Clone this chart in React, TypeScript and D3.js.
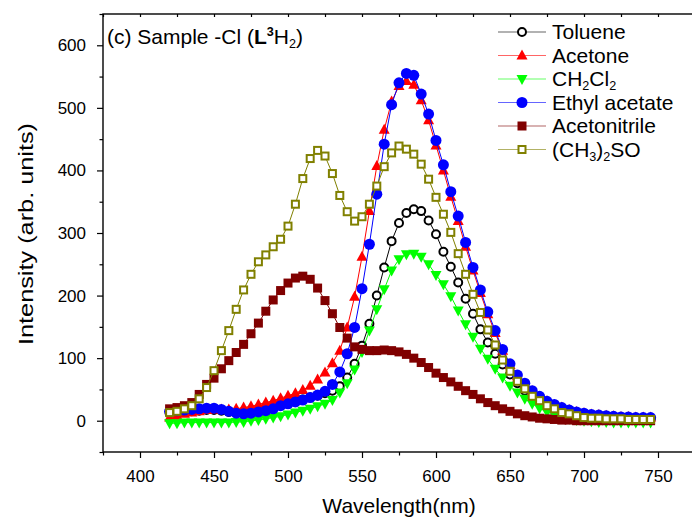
import React, { useRef, useEffect } from 'react';
import * as d3 from 'd3';

// wavelength grid (nm)
const wavelengths = [
  420, 425, 430, 435, 440, 445, 450, 455, 460, 465,
  470, 475, 480, 485, 490, 495, 500, 505, 510, 515,
  520, 525, 530, 535, 540, 545, 550, 555, 560, 565,
  570, 575, 580, 585, 590, 595, 600, 605, 610, 615,
  620, 625, 630, 635, 640, 645, 650, 655, 660, 665,
  670, 675, 680, 685, 690, 695, 700, 705, 710, 715,
  720, 725, 730, 735, 740, 745,
];

const toluene = [
  12, 13, 14, 15, 16, 17, 17, 16, 14, 13,
  13, 14, 16, 19, 22, 25, 28, 31, 34, 37,
  40, 44, 48, 55, 69, 91, 120, 155, 200, 245,
  287, 316, 332, 338, 335, 320, 298, 270, 246, 221,
  195, 171, 146, 125, 107, 90, 74, 60, 48, 38,
  30, 24, 19, 15, 12, 10, 8, 7, 6, 5,
  4, 4, 3, 3, 3, 3,
];

const acetone = [
  5, 8, 11, 13, 15, 17, 18, 18, 18, 19,
  21, 23, 26, 29, 32, 36, 40, 44, 49, 56,
  66, 77, 92, 112, 149, 198, 262, 335, 407, 465,
  510, 535, 543, 537, 512, 480, 440, 400, 358, 319,
  278, 240, 204, 170, 140, 112, 89, 71, 58, 47,
  38, 31, 25, 21, 17, 14, 12, 10, 9, 8,
  7, 6, 6, 5, 5, 5,
];

const ch2cl2 = [
  -4, -4, -3, -3, -3, -3, -3, -3, -3, -2,
  -2, 0, 1, 3, 5, 7, 10, 13, 16, 19,
  23, 27, 33, 45, 60, 82, 110, 144, 178, 210,
  240, 258, 266, 267, 262, 250, 233, 218, 199, 176,
  154, 134, 115, 99, 83, 69, 56, 45, 35, 27,
  20, 14, 10, 6, 3, 1, 0, -1, -2, -2,
  -3, -3, -3, -3, -3, -3,
];

const ethylAcetate = [
  15, 16, 17, 18, 19, 20, 20, 18, 15, 12,
  11, 12, 14, 16, 19, 24, 27, 30, 33, 37,
  41, 47, 58, 78, 107, 149, 211, 282, 362, 442,
  505, 540, 555, 552, 522, 490, 448, 409, 366, 327,
  285, 245, 209, 174, 144, 114, 91, 73, 60, 48,
  39, 31, 26, 21, 17, 14, 12, 10, 9, 8,
  7, 6, 6, 5, 5, 5,
];

const acetonitrile = [
  19, 21, 24, 29, 42, 58, 68, 83, 96, 109,
  122, 139, 156, 175, 193, 208, 220, 228, 231, 226,
  212, 192, 171, 149, 132, 118, 114, 112, 112, 113,
  112, 110, 106, 100, 93, 85, 76, 69, 62, 55,
  48, 42, 35, 29, 24, 19, 15, 11, 8, 6,
  4, 3, 2, 1, 1, 0, 0, 0, 0, 0,
  0, 0, 0, 0, 0, 0,
];

const dmso = [
  13, 15, 19, 24, 35, 53, 80, 112, 144, 178,
  209, 234, 254, 265, 278, 290, 311, 346, 387, 419,
  432, 423, 395, 360, 334, 319, 326, 346, 375, 406,
  428, 439, 434, 426, 410, 386, 357, 330, 301, 267,
  234, 202, 173, 145, 121, 97, 79, 63, 51, 39,
  32, 24, 19, 13, 11, 8, 5, 4, 4, 3,
  3, 3, 2, 2, 2, 2,
];

const xMajorTicks = [400, 450, 500, 550, 600, 650, 700, 750];
const yMajorTicks = [0, 100, 200, 300, 400, 500, 600];

type Part = { t: string; sub?: boolean; sup?: boolean; bold?: boolean };

const series = [
  { label: [{ t: 'Toluene' }], values: toluene, color: '#000000', marker: 'circleOpen' },
  { label: [{ t: 'Acetone' }], values: acetone, color: '#ff0000', marker: 'triUp' },
  { label: [{ t: 'CH' }, { t: '2', sub: true }, { t: 'Cl' }, { t: '2', sub: true }], values: ch2cl2, color: '#00ff00', marker: 'triDown' },
  { label: [{ t: 'Ethyl acetate' }], values: ethylAcetate, color: '#0000ff', marker: 'circle' },
  { label: [{ t: 'Acetonitrile' }], values: acetonitrile, color: '#800000', marker: 'square' },
  { label: [{ t: '(CH' }, { t: '3', sub: true }, { t: ')' }, { t: '2', sub: true }, { t: 'SO' }], values: dmso, color: '#808000', marker: 'squareOpen' },
];

const FONT = '"Liberation Sans", Arial, sans-serif';

const drawMarker = (g, kind, color, cx, cy) => {
  if (kind === 'circleOpen') {
    g.append('circle').attr('cx', cx).attr('cy', cy).attr('r', 4)
      .attr('fill', '#fff').attr('stroke', color).attr('stroke-width', 2);
  } else if (kind === 'circle') {
    g.append('circle').attr('cx', cx).attr('cy', cy).attr('r', 5.5).attr('fill', color);
  } else if (kind === 'triUp') {
    g.append('path')
      .attr('d', `M${cx},${cy - 6}L${cx - 5.5},${cy + 4}L${cx + 5.5},${cy + 4}Z`)
      .attr('fill', color);
  } else if (kind === 'triDown') {
    g.append('path')
      .attr('d', `M${cx},${cy + 6}L${cx - 5.5},${cy - 4}L${cx + 5.5},${cy - 4}Z`)
      .attr('fill', color);
  } else if (kind === 'square') {
    g.append('rect').attr('x', cx - 4.5).attr('y', cy - 4.5).attr('width', 9).attr('height', 9)
      .attr('fill', color);
  } else if (kind === 'squareOpen') {
    g.append('rect').attr('x', cx - 3.5).attr('y', cy - 3.5).attr('width', 7).attr('height', 7)
      .attr('fill', '#fff').attr('stroke', color).attr('stroke-width', 2);
  }
};

// text with sub/superscripts
const richText = (text, parts: Part[], size) => {
  let shift = 0;
  parts.forEach(p => {
    const target = p.sub ? 4 : p.sup ? -8 : 0;
    const ts = text.append('tspan').text(p.t).attr('dy', target - shift);
    if (p.sub || p.sup) ts.attr('font-size', size * 0.6);
    if (p.bold) ts.attr('font-weight', 'bold');
    shift = target;
  });
};

const App = () => {
  const svgRef = useRef<SVGSVGElement>(null);

  useEffect(() => {
    const svg = d3.select(svgRef.current);
    svg.selectAll('*').remove();

    const left = 103, right = 695, top = 14, bottom = 452;

    const x = d3.scaleLinear().domain([375, 775]).range([left, right]);
    const y = d3.scaleLinear().domain([-50, 650]).range([bottom, top]);

    // series lines + markers
    series.forEach(s => {
      const g = svg.append('g');
      const line = d3.line<number>()
        .x((d, i) => x(wavelengths[i]))
        .y(d => y(d));
      g.append('path')
        .datum(s.values)
        .attr('d', line)
        .attr('fill', 'none')
        .attr('stroke', s.color)
        .attr('stroke-width', 1);
      s.values.forEach((v, i) => drawMarker(g, s.marker, s.color, x(wavelengths[i]), y(v)));
    });

    // minor ticks
    const minorX = d3.range(375, 776, 25).filter(v => !xMajorTicks.includes(v));
    const minorY = d3.range(-50, 651, 50).filter(v => !yMajorTicks.includes(v));

    svg.append('g')
      .attr('transform', `translate(0,${bottom})`)
      .call(d3.axisBottom(x).tickValues(minorX).tickSize(3.5).tickFormat(() => ''))
      .call(g => g.select('.domain').remove());
    svg.append('g')
      .attr('transform', `translate(${left},0)`)
      .call(d3.axisLeft(y).tickValues(minorY).tickSize(3.5).tickFormat(() => ''))
      .call(g => g.select('.domain').remove());
    svg.append('g')
      .attr('transform', `translate(0,${top})`)
      .call(d3.axisBottom(x).tickValues(d3.range(375, 776, 25)).tickSize(3).tickFormat(() => ''))
      .call(g => g.select('.domain').remove());

    // major axes
    const xAxis = svg.append('g')
      .attr('transform', `translate(0,${bottom})`)
      .call(d3.axisBottom(x).tickValues(xMajorTicks).tickSize(6).tickPadding(12).tickSizeOuter(0));
    const yAxis = svg.append('g')
      .attr('transform', `translate(${left},0)`)
      .call(d3.axisLeft(y).tickValues(yMajorTicks).tickSize(6).tickPadding(11).tickSizeOuter(0));
    [xAxis, yAxis].forEach(a => {
      a.attr('font-family', FONT).attr('font-size', 17);
      a.select('.domain').remove();
      a.selectAll('text').attr('fill', '#000');
    });
    svg.selectAll('.tick line').attr('stroke', '#000').attr('stroke-width', 1.2);

    // frame
    svg.append('rect')
      .attr('x', left).attr('y', top)
      .attr('width', right - left).attr('height', bottom - top)
      .attr('fill', 'none').attr('stroke', '#000').attr('stroke-width', 1.4);

    // axis titles
    svg.append('text')
      .attr('x', 399).attr('y', 513)
      .attr('text-anchor', 'middle')
      .attr('font-family', FONT).attr('font-size', 21)
      .text('Wavelength(nm)');
    svg.append('text')
      .attr('transform', 'translate(33,234) rotate(-90)')
      .attr('text-anchor', 'middle')
      .attr('font-family', FONT).attr('font-size', 21)
      .attr('textLength', 222).attr('lengthAdjust', 'spacingAndGlyphs')
      .text('Intensity (arb. units)');

    // panel label
    const note = svg.append('text')
      .attr('x', 107).attr('y', 44)
      .attr('font-family', FONT).attr('font-size', 21);
    richText(note, [
      { t: '(c) Sample -Cl (' },
      { t: 'L', bold: true },
      { t: '3', sup: true, bold: true },
      { t: 'H' },
      { t: '2', sub: true },
      { t: ')' },
    ], 21);

    // legend
    const legend = svg.append('g');
    series.forEach((s, i) => {
      const ry = 32 + i * 23.5;
      legend.append('line')
        .attr('x1', 498).attr('x2', 546).attr('y1', ry).attr('y2', ry)
        .attr('stroke', s.color).attr('stroke-width', 1.2).attr('opacity', 0.6);
      drawMarker(legend, s.marker, s.color, 522, ry);
      const t = legend.append('text')
        .attr('x', 552).attr('y', ry + 7)
        .attr('font-family', FONT).attr('font-size', 21);
      richText(t, s.label, 21);
    });
  }, []);

  return (
    <svg
      ref={svgRef}
      width={692}
      height={519}
      style={{ position: 'absolute', left: 0, top: 0, background: '#fff' }}
    />
  );
};

export default App;
